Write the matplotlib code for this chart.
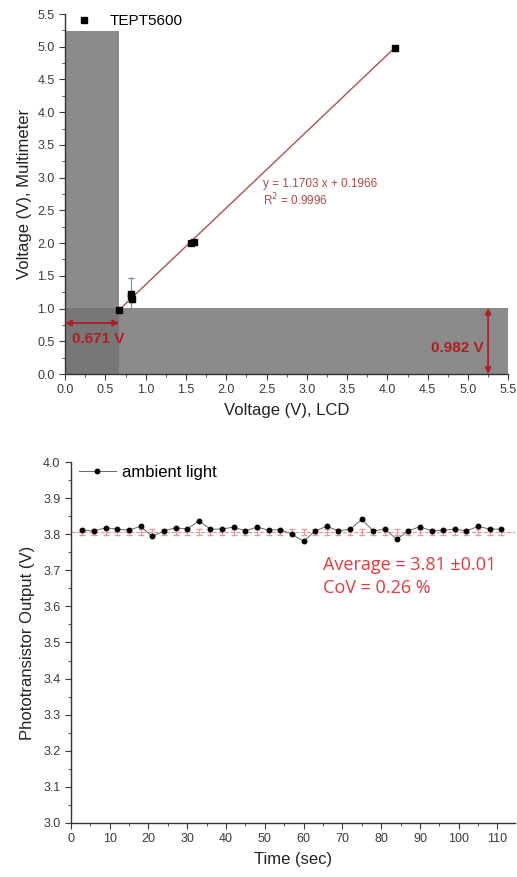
import numpy as np
import matplotlib
matplotlib.use("Agg")
import matplotlib.pyplot as plt
from matplotlib.lines import Line2D
from matplotlib.ticker import MultipleLocator

plt.rcParams["font.family"] = ["Liberation Sans", "DejaVu Sans"]

# top panel: LCD vs multimeter
lcd_v = [0.67, 0.82, 0.83, 0.82, 1.56, 1.60, 4.09]
meter_v = [0.98, 1.23, 1.15, 1.19, 2.00, 2.02, 4.98]
meter_err = [0.02, 0.24, 0.05, 0.03, 0.03, 0.03, 0.02]
slope, intercept = 1.1703, 0.1966
thresh_x = 0.671
thresh_y = 0.982

# bottom panel: ambient light stability
t_sec = list(range(3, 112, 3))
photo_v = [3.811, 3.809, 3.818, 3.814, 3.811, 3.822, 3.794, 3.809, 3.818, 3.814,
           3.837, 3.814, 3.814, 3.820, 3.809, 3.820, 3.811, 3.813, 3.800, 3.780,
           3.809, 3.822, 3.809, 3.814, 3.841, 3.809, 3.814, 3.786, 3.809, 3.821,
           3.809, 3.811, 3.814, 3.809, 3.822, 3.814, 3.814]
avg_v = 3.806
avg_err = 0.008

fig = plt.figure(figsize=(5.17, 8.77), dpi=100)
tick_col = "#3a3a3a"
lab_col = "#222222"
arrow_red = "#b01e23"


def style(ax):
    for side in ("top", "right"):
        ax.spines[side].set_visible(False)
    for side in ("left", "bottom"):
        ax.spines[side].set_color("#333333")
        ax.spines[side].set_linewidth(1.0)
    ax.tick_params(which="both", direction="out", colors=tick_col, labelsize=9)
    ax.tick_params(which="major", length=4)
    ax.tick_params(which="minor", length=2)


ax1 = fig.add_axes([0.126, 0.5735, 0.857, 0.4105])
ax1.set_xlim(0, 5.5)
ax1.set_ylim(0, 5.5)
ax1.fill_between([0, thresh_x], 0, 5.245, color="#747474", alpha=0.83, lw=0)
ax1.fill_between([0, 5.5], 0, 1.01, color="#747474", alpha=0.83, lw=0)

fit_x = np.array([lcd_v[0], lcd_v[-1]])
ax1.plot(fit_x, slope * fit_x + intercept, color="#b05050", lw=1.0)
ax1.errorbar(lcd_v, meter_v, yerr=meter_err, fmt="s", color="black", ms=5,
             ecolor="#888888", elinewidth=0.8, capsize=2.5)
ax1.text(2.46, 2.86, f"y = {slope} x + {intercept}", color="#b04848", fontsize=8.5)
ax1.text(2.46, 2.58, "R$^2$ = 0.9996", color="#b04848", fontsize=8.5)

ax1.annotate("", xy=(0.0, 0.78), xytext=(thresh_x, 0.78),
             arrowprops=dict(arrowstyle="<|-|>", color=arrow_red, lw=1.3,
                             mutation_scale=9, shrinkA=0, shrinkB=0))
ax1.text(0.09, 0.47, f"{thresh_x} V", color=arrow_red, fontsize=11,
         fontweight="bold", family=["Liberation Sans", "DejaVu Sans"])
ax1.annotate("", xy=(5.25, 0.0), xytext=(5.25, 1.01),
             arrowprops=dict(arrowstyle="<|-|>", color=arrow_red, lw=1.3,
                             mutation_scale=9, shrinkA=0, shrinkB=0))
ax1.text(5.19, 0.34, f"{thresh_y} V", color=arrow_red, fontsize=11, ha="right",
         fontweight="bold", family=["Liberation Sans", "DejaVu Sans"])

ax1.xaxis.set_major_locator(MultipleLocator(0.5))
ax1.xaxis.set_minor_locator(MultipleLocator(0.25))
ax1.yaxis.set_major_locator(MultipleLocator(0.5))
ax1.yaxis.set_minor_locator(MultipleLocator(0.25))
ax1.xaxis.set_major_formatter(lambda v, p: f"{v:.1f}")
ax1.yaxis.set_major_formatter(lambda v, p: f"{v:.1f}")
style(ax1)
ax1.set_xlabel("Voltage (V), LCD", fontsize=12, color=lab_col, labelpad=5)
ax1.set_ylabel("Voltage (V), Multimeter", fontsize=12, color=lab_col, labelpad=4)
sq = Line2D([], [], ls="none", marker="s", color="black", ms=5)
ax1.legend([sq], ["TEPT5600"], loc="upper left", frameon=False, fontsize=11,
           handletextpad=0.9, borderaxespad=0.1, bbox_to_anchor=(0.0, 1.02),
           handlelength=1.5)

ax2 = fig.add_axes([0.137, 0.0616, 0.859, 0.4116])
ax2.set_xlim(0, 114.5)
ax2.set_ylim(3.0, 4.0)
ax2.axhline(avg_v, color="#e07a7a", lw=0.8, ls="--", alpha=0.8)
ax2.errorbar(t_sec, [avg_v] * len(t_sec), yerr=avg_err, fmt="none",
             ecolor="#e39a9a", elinewidth=0.8, capsize=2)
ax2.plot(t_sec, photo_v, color="#666666", lw=0.7, marker="o", ms=3.2,
         mfc="black", mec="black", label="ambient light")
ax2.text(65, 3.70, "Average = 3.81 \u00b10.01", color="#e8383d", fontsize=13,
         family=["Open Sans", "DejaVu Sans"])
ax2.text(65, 3.636, "CoV = 0.26 %", color="#e8383d", fontsize=13,
         family=["Open Sans", "DejaVu Sans"])

ax2.xaxis.set_major_locator(MultipleLocator(10))
ax2.xaxis.set_minor_locator(MultipleLocator(5))
ax2.yaxis.set_major_locator(MultipleLocator(0.1))
ax2.yaxis.set_minor_locator(MultipleLocator(0.05))
ax2.yaxis.set_major_formatter(lambda v, p: f"{v:.1f}")
style(ax2)
ax2.set_xlabel("Time (sec)", fontsize=12, color=lab_col, labelpad=5)
ax2.set_ylabel("Phototransistor Output (V)", fontsize=12, color=lab_col, labelpad=6)
ax2.legend(loc="upper left", frameon=False, fontsize=12, handletextpad=0.4,
           borderaxespad=0.1, bbox_to_anchor=(0.0, 1.015), handlelength=2.2)

fig.savefig("out.png", dpi=100)
